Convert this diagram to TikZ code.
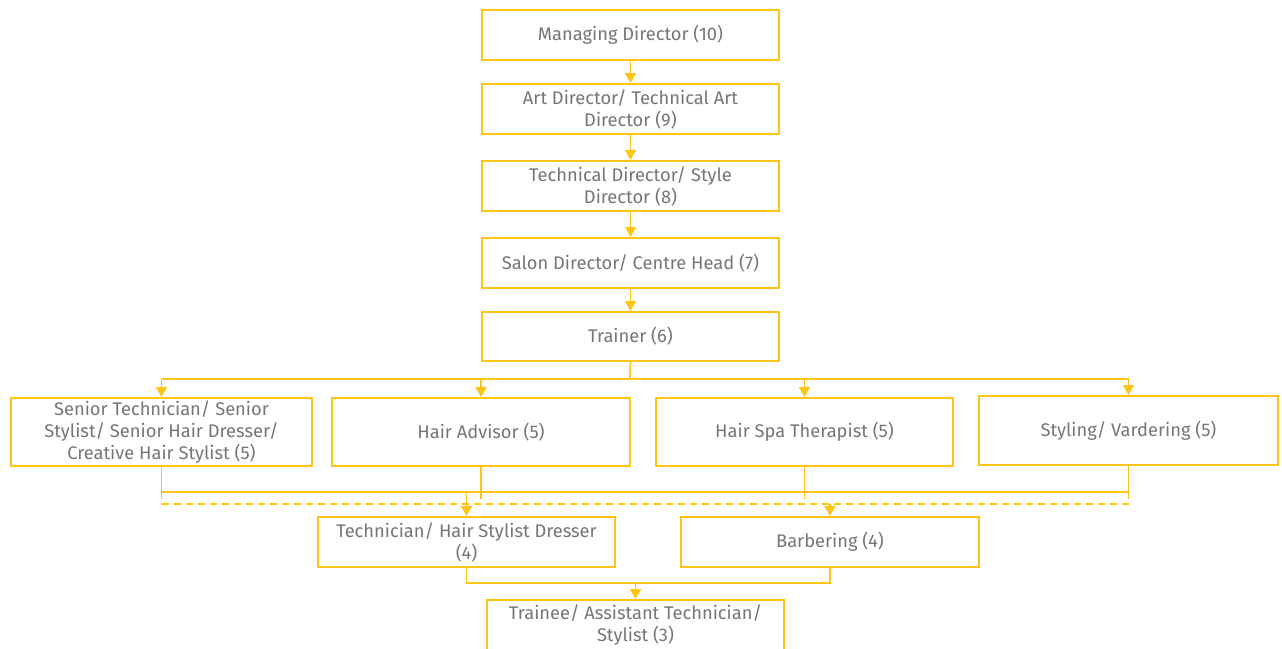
\documentclass[tikz,border=0pt]{standalone}
\usepackage{fontspec}
\setmainfont{Fira Sans}
\usetikzlibrary{arrows.meta}
\definecolor{gold}{RGB}{255,196,20}
\definecolor{txt}{RGB}{118,118,118}
\tikzset{
  box/.style={draw=gold, line width=2pt, fill=white, minimum width=297pt, minimum height=50pt,
    align=center, text=txt, font=\fontsize{18.3}{22}\selectfont, inner sep=2pt},
  link/.style={draw=gold, line width=1.7pt},
  arr/.style={link, -{Triangle[width=11pt,length=10pt]}},
  dlink/.style={link, dash pattern=on 7pt off 5pt},
}
\begin{document}
\begin{tikzpicture}[x=1pt, y=-1pt]
\useasboundingbox (0,0) rectangle (1282,648);
\clip (0,0) rectangle (1282,648);

% upper chain
\node[box] (md) at (630.5,35) {Managing Director (10)};
\node[box] (ad) at (630.5,109) {Art Director/ Technical Art\\Director (9)};
\node[box] (td) at (630.5,186) {Technical Director/ Style\\Director (8)};
\node[box] (sd) at (630.5,263) {Salon Director/ Centre Head (7)};
\node[box, minimum height=49pt] (tr) at (630.5,336.5) {Trainer (6)};

% level 5
\node[box, minimum width=301pt, minimum height=68pt] (st) at (161.5,432) {Senior Technician/ Senior\\Stylist/ Senior Hair Dresser/\\Creative Hair Stylist (5)};
\node[box, minimum width=298pt, minimum height=68pt] (ha) at (481,432) {Hair Advisor (5)};
\node[box, minimum width=297pt, minimum height=68pt] (hs) at (804.5,432) {Hair Spa Therapist (5)};
\node[box, minimum width=299pt, minimum height=69pt] (sty) at (1128.5,430.5) {Styling/ Vardering (5)};

% level 4
\node[box] (tech) at (466.5,542) {Technician/ Hair Stylist Dresser\\(4)};
\node[box, minimum width=298pt] (barb) at (830,542) {Barbering (4)};

% level 3
\node[box] (trn) at (635.5,625) {Trainee/ Assistant Technician/\\Stylist (3)};

% bus lines
\coordinate (top) at (630,379);
\coordinate (sol) at (160,492);
\coordinate (dsh) at (160,504);
\coordinate (low) at (630,583);

% chain arrows
\draw[arr] (md) -- (ad);
\draw[arr] (ad) -- (td);
\draw[arr] (td) -- (sd);
\draw[arr] (sd) -- (tr);

% trainer to level 5
\draw[link] (tr.south) -- (top);
\draw[link] (st.north |- top) -- (sty.north |- top);
\draw[arr] (st.north |- top) -- (st.north);
\draw[arr] (ha.north |- top) -- (ha.north);
\draw[arr] (hs.north |- top) -- (hs.north);
\draw[arr] (sty.north |- top) -- (sty.north);

% level 5 to technician (solid)
\draw[link] (st.south) -- (st.south |- sol);
\draw[link] (ha.south) -- (ha.south |- sol);
\draw[link] (hs.south) -- (hs.south |- sol);
\draw[link] (sty.south) -- (sty.south |- sol);
\draw[link] (st.south |- sol) -- (sty.south |- sol);
\draw[arr] (tech.north |- sol) -- (tech.north);

% level 5 to barbering (dashed)
\draw[dlink] (st.south |- sol) -- (st.south |- dsh) -- (sty.south |- dsh) -- (sty.south |- sol);
\draw[dlink] (ha.south |- sol) -- (ha.south |- dsh);
\draw[dlink] (hs.south |- sol) -- (hs.south |- dsh);
\draw[arr] (barb.north |- dsh) -- (barb.north);

% level 4 to trainee
\draw[link] (tech.south) -- (tech.south |- low) -- (barb.south |- low) -- (barb.south);
\draw[arr] (trn.north |- low) -- (trn.north);
\end{tikzpicture}
\end{document}
